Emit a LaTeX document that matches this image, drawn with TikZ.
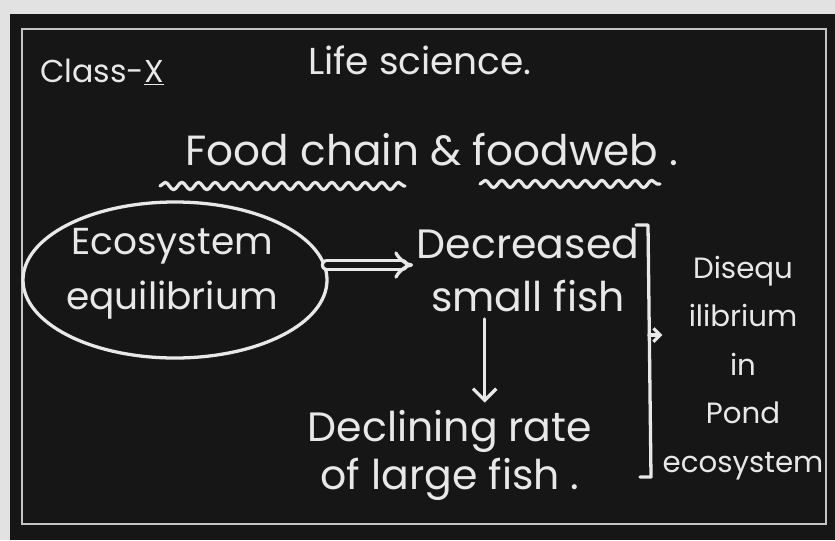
\documentclass[tikz,border=0pt]{standalone}
\usepackage{fontspec}
\setmainfont{Poppins}
\usetikzlibrary{arrows.meta,positioning,shapes.geometric,decorations.pathmorphing}
\definecolor{chalk}{HTML}{E8E8E8}
\definecolor{board}{HTML}{161616}
\definecolor{paper}{HTML}{E2E2E2}
\definecolor{rim}{HTML}{C4C4C4}

\begin{document}
\begin{tikzpicture}[
    x=0.3mm, y=-0.3mm,
    chalktext/.style={text=chalk, align=center, inner sep=0pt},
    line/.style={draw=chalk, line width=2.8pt, line cap=round, line join=round},
    wavy/.style={line, decorate, decoration={snake, amplitude=1.1mm, segment length=5mm}},
    arr/.style={line, -{Straight Barb[length=3.5mm, width=7mm]}},
]
    \fill[paper] (0,0) rectangle (835,540);
    \fill[board] (10,14) rectangle (835,540);
    \draw[rim, line width=2.5pt] (22,29) rectangle (826,524);
    \useasboundingbox (0,0) rectangle (835,540);

    \node[chalktext, font=\fontsize{27}{30}\selectfont] (cls) at (102,72) {Class-\underline{X}};
    \node[chalktext, font=\fontsize{32}{36}\selectfont] (life) at (420,60) {Life science.};
    \node[chalktext, font=\fontsize{36}{40}\selectfont] (title) at (432,150) {Food chain \& foodweb .};
    \draw[wavy] (160,186) -- (405,186);
    \draw[wavy] (480,184) -- (660,184);

    \node[chalktext, font=\fontsize{32}{47}\selectfont] (eco) at (172,274) {Ecosystem\\equilibrium};
    \draw[line] (175,280) ellipse [x radius=152, y radius=78];
    \coordinate (ecoE) at (327,265);

    \node[chalktext, font=\fontsize{35}{45}\selectfont] (dec) at (528,270) {Decreased\\small fish};
    \node[chalktext, font=\fontsize{35}{41}\selectfont] (decl) at (450,455) {Declining rate\\of large fish .};
    \node[chalktext, font=\fontsize{25}{41.5}\selectfont] (dis) at (743,368) {Disequ\\ilibrium\\in\\Pond\\ecosystem};

    \draw[line, double=board, double distance=5pt, -{Implies}, shorten >=3pt] (ecoE) -- (ecoE -| dec.west);
    \draw[arr, shorten <=6pt, shorten >=6pt] ([xshift=-13mm]dec.south) -- ([xshift=-13mm]dec.south |- decl.north);

    \coordinate (b1) at (636,225);
    \coordinate (b2) at (648,225);
    \coordinate (b3) at (651,477);
    \coordinate (b4) at (640,477);
    \coordinate (bm) at (649,335);
    \draw[line] (b1) -- (b2) -- (b3) -- (b4);
    \draw[arr, -{Straight Barb[length=2mm, width=4mm]}] (bm) -- (bm -| dis.west);
\end{tikzpicture}
\end{document}
